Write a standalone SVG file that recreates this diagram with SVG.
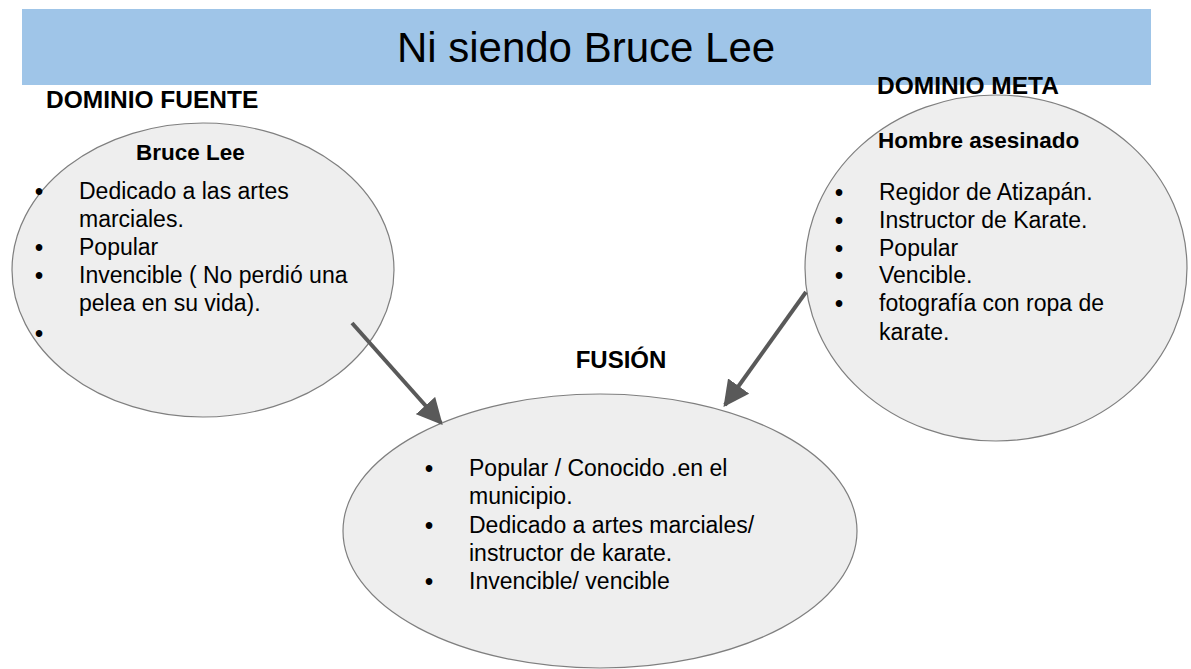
<svg xmlns="http://www.w3.org/2000/svg" width="1191" height="669" viewBox="0 0 1191 669">
<defs>
<style>
text{font-family:"Liberation Sans",Arial,sans-serif;fill:#000}
.title{font-size:42px}
.h{font-weight:bold;font-size:24.5px}
.s{font-weight:bold;font-size:22.5px}
.t{font-size:23px}
.d{font-size:23px;font-weight:bold}
.node{fill:#eeeeee;stroke:#7f7f7f;stroke-width:1.2}
.conn{stroke:#595959;stroke-width:4;fill:none}
</style>
<marker id="ah" viewBox="0 0 10 10" refX="9" refY="5" markerWidth="6.5" markerHeight="6.5" markerUnits="strokeWidth" orient="auto">
<path d="M0,0 L10,5 L0,10 z" fill="#595959"/>
</marker>
</defs>
<rect width="1191" height="669" fill="#ffffff"/>
<g id="header">
<rect x="22" y="9" width="1129" height="76" fill="#9fc5e8"/>
<text class="title" x="586" y="62" text-anchor="middle">Ni siendo Bruce Lee</text>
</g>
<text class="h" x="46" y="108">DOMINIO FUENTE</text>
<text class="h" x="877" y="94">DOMINIO META</text>
<text class="h" x="621" y="368" text-anchor="middle" style="font-size:24px">FUSIÓN</text>
<g id="fuente">
<ellipse class="node" cx="203" cy="270" rx="191" ry="147"/>
<text class="s" x="136" y="160">Bruce Lee</text>
<text class="d" x="35" y="200">•</text><text class="t" x="79" y="199">Dedicado a las artes</text>
<text class="t" x="79" y="227">marciales.</text>
<text class="d" x="35" y="256">•</text><text class="t" x="79" y="255">Popular</text>
<text class="d" x="35" y="284">•</text><text class="t" x="79" y="283">Invencible ( No perdió una</text>
<text class="t" x="79" y="311">pelea en su vida).</text>
<text class="d" x="35" y="342">•</text>
</g>
<g id="meta">
<ellipse class="node" cx="996" cy="268" rx="191" ry="173"/>
<text class="s" x="878" y="148">Hombre asesinado</text>
<text class="d" x="835" y="201">•</text><text class="t" x="879" y="200">Regidor de Atizapán.</text>
<text class="d" x="835" y="229">•</text><text class="t" x="879" y="228">Instructor de Karate.</text>
<text class="d" x="835" y="257">•</text><text class="t" x="879" y="256">Popular</text>
<text class="d" x="835" y="284">•</text><text class="t" x="879" y="283">Vencible.</text>
<text class="d" x="835" y="312">•</text><text class="t" x="879" y="311">fotografía con ropa de</text>
<text class="t" x="879" y="340">karate.</text>
</g>
<g id="fusion">
<ellipse class="node" cx="600" cy="531" rx="257" ry="137"/>
<text class="d" x="425" y="477">•</text><text class="t" x="469" y="476">Popular / Conocido .en el</text>
<text class="t" x="469" y="504">municipio.</text>
<text class="d" x="425" y="534">•</text><text class="t" x="469" y="533">Dedicado a artes marciales/</text>
<text class="t" x="469" y="561">instructor de karate.</text>
<text class="d" x="425" y="590">•</text><text class="t" x="469" y="589">Invencible/ vencible</text>
</g>
<g id="connectors">
<line class="conn" x1="352" y1="323" x2="441" y2="423" marker-end="url(#ah)"/>
<line class="conn" x1="806" y1="292" x2="725" y2="405" marker-end="url(#ah)"/>
</g>
</svg>
